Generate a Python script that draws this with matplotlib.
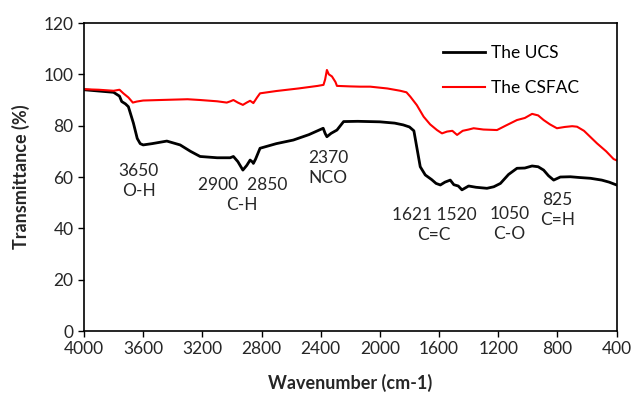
import matplotlib
matplotlib.use("Agg")
import matplotlib.pyplot as plt

plt.rcParams["font.family"] = ["Lato", "DejaVu Sans"]

# UCS spectrum
ucs_wn = [4000, 3900, 3800, 3760, 3745, 3720, 3700, 3666, 3640, 3620, 3600, 3540, 3440,
          3350, 3280, 3215, 3100, 3012, 2990, 2960, 2926, 2900, 2877, 2860, 2855, 2840,
          2810, 2700, 2585, 2480, 2383, 2370, 2358, 2330, 2290, 2245, 2150, 2000, 1900,
          1842, 1800, 1770, 1727, 1693, 1650, 1620, 1591, 1560, 1524, 1500, 1470, 1445,
          1400, 1350, 1276, 1230, 1185, 1130, 1073, 1020, 971, 930, 893, 860, 825, 780,
          712, 650, 576, 500, 450, 400]
ucs_t = [94, 93.5, 93, 91.5, 89.4, 88.5, 87.4, 81, 75, 73, 72.5, 73, 74,
         72.5, 70, 68, 67.5, 67.5, 68, 66, 62.7, 64.5, 66.6, 65.8, 65.3, 67,
         71.2, 73, 74.4, 76.5, 79, 77, 75.7, 77, 78.3, 81.6, 81.7, 81.5, 81,
         80.3, 79.5, 78, 64, 60.8, 59, 57.5, 56.9, 58, 58.8, 57, 56.5, 55,
         56.5, 56, 55.6, 56.2, 57.5, 61, 63.4, 63.5, 64.3, 64, 62.7, 60.5, 58.8, 60,
         60.1, 59.8, 59.5, 58.8, 58, 56.9]

# CSFAC spectrum
csfac_wn = [4000, 3900, 3800, 3760, 3734, 3700, 3670, 3643, 3600, 3486, 3300, 3215, 3100,
            3035, 3010, 2990, 2960, 2926, 2900, 2877, 2860, 2855, 2830, 2810, 2700, 2550,
            2420, 2381, 2370, 2358, 2345, 2324, 2300, 2290, 2200, 2133, 2065, 1950, 1862,
            1820, 1794, 1750, 1704, 1660, 1614, 1580, 1546, 1510, 1478, 1440, 1400, 1366,
            1300, 1208, 1150, 1073, 1020, 971, 930, 893, 850, 803, 750, 700, 667, 620,
            532, 470, 420, 400]
csfac_t = [94.2, 94, 93.6, 94, 92.6, 91, 89, 89.4, 89.8, 90, 90.3, 90, 89.5,
           89, 89.5, 90, 89, 88.1, 89, 89.7, 89, 88.8, 91, 92.6, 93.5, 94.5,
           95.5, 95.9, 98, 101.7, 100, 99.2, 97, 95.5, 95.3, 95.2, 95.2, 94.5, 93.6,
           93, 91.3, 88, 83.5, 80.5, 78.3, 77, 77.7, 78, 76.4, 78, 78.5, 79,
           78.5, 78.3, 80, 82.2, 83, 84.6, 84, 82.2, 80.5, 79, 79.5, 79.8, 79.6, 78,
           73.1, 70, 67, 66.5]

# band labels: (wavenumber, transmittance, text)
band_x = [3630, 2930, 2350, 1632, 1125, 800]
band_y = [58.5, 53, 63.5, 41.3, 41.7, 47]
band_txt = ["3650\nO-H", "2900  2850\nC-H", "2370\nNCO",
            "1621 1520\nC=C", "1050\nC-O", "825\nC=H"]

xticks = [4000, 3600, 3200, 2800, 2400, 2000, 1600, 1200, 800, 400]
yticks = [0, 20, 40, 60, 80, 100, 120]

fig = plt.figure(figsize=(6.33, 3.96), dpi=100)
ax = fig.add_axes([0.1327, 0.1641, 0.8413, 0.7778])
ax.plot(ucs_wn, ucs_t, color="black", lw=2.0, label="The UCS")
ax.plot(csfac_wn, csfac_t, color="red", lw=1.5, label="The CSFAC")

for x, y, t in zip(band_x, band_y, band_txt):
    ax.text(x, y, t, ha="center", va="center", fontsize=12.5,
            color="#262626", linespacing=1.3)

ax.set_xlim(4000, 400)
ax.set_ylim(0, 120)
ax.set_xticks(xticks)
ax.set_yticks(yticks)
ax.tick_params(direction="out", length=4, width=1, labelsize=12.5,
               labelcolor="#262626")
for s in ax.spines.values():
    s.set_linewidth(1.2)
ax.set_xlabel("Wavenumber (cm-1)", fontsize=13, fontweight="bold",
              color="#262626", labelpad=12)
ax.set_ylabel("Transmittance (%)", fontsize=13, fontweight="bold",
              color="#262626", labelpad=10)

ax.legend(loc="upper right", bbox_to_anchor=(0.96, 0.98), frameon=False,
          fontsize=12.5, handlelength=2.4, labelspacing=1.1, handletextpad=0.4)

fig.savefig("out.png", dpi=100)
